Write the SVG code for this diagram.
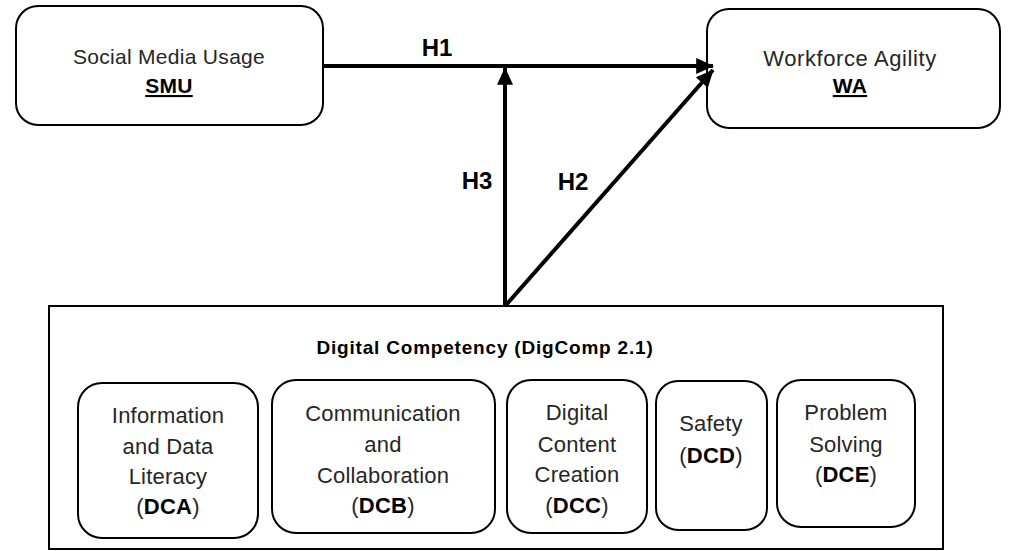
<svg xmlns="http://www.w3.org/2000/svg" width="1022" height="551" viewBox="0 0 1022 551">
<defs>
<marker id="ah" markerWidth="4.4" markerHeight="4" refX="4.2" refY="2" orient="auto" markerUnits="strokeWidth">
<path d="M0,0 L4.4,2 L0,4 Z" fill="#000"/>
</marker>
<style>
.box{fill:#fff;stroke:#000;stroke-width:2}
.t{font-family:"Liberation Sans",Arial,sans-serif;font-size:21px;fill:#262626;text-anchor:middle;letter-spacing:0.3px}
.s{font-size:22px;letter-spacing:0.2px}
.b{font-weight:bold;fill:#000}
.u{text-decoration:underline}
.h{font-family:"Liberation Sans",Arial,sans-serif;font-size:24px;font-weight:bold;fill:#000;text-anchor:middle}
.c{fill:none;stroke:#000;stroke-width:4}
</style>
</defs>
<rect width="1022" height="551" fill="#fff"/>
<g id="smu">
<rect class="box" x="16" y="6" width="307" height="119" rx="22"/>
<text class="t" x="169" y="64">Social Media Usage</text>
<text class="t b u" x="169" y="93">SMU</text>
</g>
<g id="wa">
<rect class="box" x="707" y="9" width="293" height="119" rx="22"/>
<text class="t" x="850" y="66" style="font-size:22px;letter-spacing:0.6px">Workforce Agility</text>
<text class="t b u" x="850" y="93">WA</text>
</g>
<g id="dc">
<rect x="49" y="306" width="894" height="243" fill="#fff" stroke="#000" stroke-width="2"/>
<text class="t b" x="485" y="354" style="font-size:19px;letter-spacing:0.8px">Digital Competency (DigComp 2.1)</text>
</g>
<g id="dca">
<rect class="box" x="78" y="383" width="180" height="155" rx="24"/>
<text class="t s" x="168" y="423">Information</text>
<text class="t s" x="168" y="454">and Data</text>
<text class="t s" x="168" y="484">Literacy</text>
<text class="t s" x="168" y="514">(<tspan class="b">DCA</tspan>)</text>
</g>
<g id="dcb">
<rect class="box" x="272" y="380" width="223" height="153" rx="24"/>
<text class="t s" x="383" y="421">Communication</text>
<text class="t s" x="383" y="452">and</text>
<text class="t s" x="383" y="483">Collaboration</text>
<text class="t s" x="383" y="513">(<tspan class="b">DCB</tspan>)</text>
</g>
<g id="dcc">
<rect class="box" x="507" y="380" width="140" height="153" rx="24"/>
<text class="t s" x="577" y="420">Digital</text>
<text class="t s" x="577" y="452">Content</text>
<text class="t s" x="577" y="482">Creation</text>
<text class="t s" x="577" y="513">(<tspan class="b">DCC</tspan>)</text>
</g>
<g id="dcd">
<rect class="box" x="656" y="381" width="111" height="149" rx="22"/>
<text class="t s" x="711" y="431">Safety</text>
<text class="t s" x="711" y="463">(<tspan class="b">DCD</tspan>)</text>
</g>
<g id="dce">
<rect class="box" x="777" y="380" width="138" height="147" rx="24"/>
<text class="t s" x="846" y="420">Problem</text>
<text class="t s" x="846" y="452">Solving</text>
<text class="t s" x="846" y="482">(<tspan class="b">DCE</tspan>)</text>
</g>
<g id="connectors">
<line class="c" x1="323" y1="66" x2="713" y2="66" marker-end="url(#ah)"/>
<line class="c" x1="505" y1="305" x2="505" y2="68" marker-end="url(#ah)"/>
<line class="c" x1="506" y1="305" x2="713" y2="70" marker-end="url(#ah)"/>
<text class="h" x="437" y="56">H1</text>
<text class="h" x="477" y="189">H3</text>
<text class="h" x="573" y="190">H2</text>
</g>
</svg>
